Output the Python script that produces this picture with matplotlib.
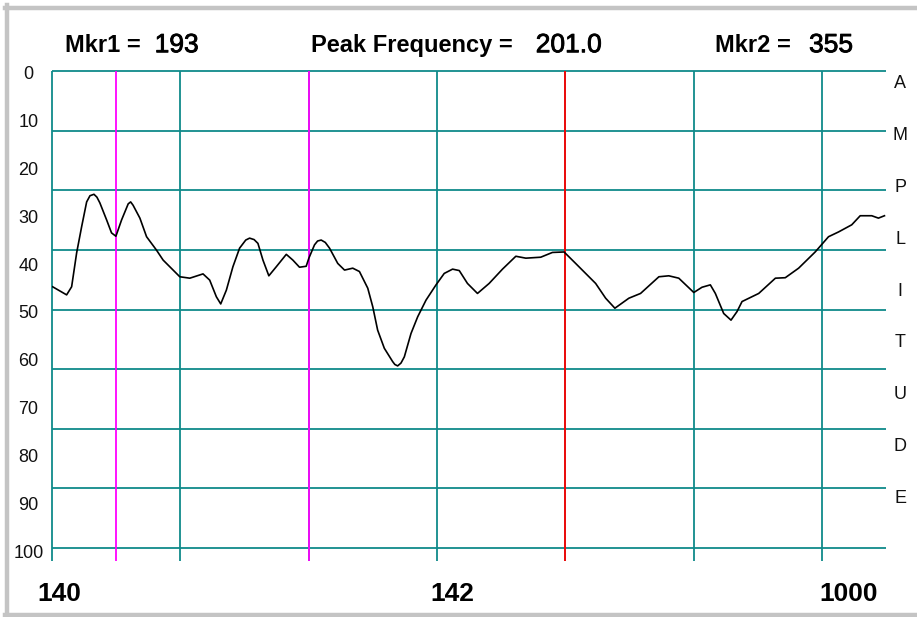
import numpy as np
import matplotlib.pyplot as plt
import matplotlib.patheffects as pe
from matplotlib.lines import Line2D

plt.rcParams['font.family'] = ['Liberation Sans', 'DejaVu Sans']

# sweep trace: x in screen divisions (0..6.5), amplitude 0 (top) .. 100 (bottom)
trace_x = [0.005, 0.114, 0.153, 0.192, 0.231, 0.270, 0.296, 0.327, 0.350, 0.373,
           0.426, 0.464, 0.498, 0.542, 0.594, 0.613, 0.632, 0.685, 0.737, 0.814,
           0.866, 0.996, 1.074, 1.177, 1.229, 1.281, 1.315, 1.359, 1.410, 1.462,
           1.510, 1.540, 1.575, 1.605, 1.644, 1.690, 1.748, 1.826, 1.877, 1.929,
           1.981, 2.002, 2.046, 2.070, 2.098, 2.130, 2.163, 2.227, 2.280, 2.344,
           2.396, 2.461, 2.500, 2.538, 2.590, 2.655, 2.672, 2.694, 2.720, 2.746,
           2.798, 2.850, 2.915, 2.993, 3.057, 3.122, 3.174, 3.238, 3.316, 3.407,
           3.511, 3.615, 3.693, 3.809, 3.900, 3.991, 4.081, 4.237, 4.315, 4.387,
           4.496, 4.587, 4.730, 4.807, 4.885, 5.002, 5.066, 5.131, 5.170, 5.235,
           5.292, 5.339, 5.378, 5.508, 5.638, 5.715, 5.819, 5.948, 6.052, 6.130,
           6.233, 6.299, 6.389, 6.441, 6.488]
trace_amp = [45.2, 46.9, 45.2, 38.1, 32.6, 27.4, 26.1, 25.8, 26.4, 27.6,
             31.2, 33.9, 34.6, 31.2, 27.8, 27.4, 28.1, 30.8, 34.7, 37.5,
             39.6, 43.1, 43.4, 42.5, 43.8, 47.3, 48.8, 45.9, 41.0, 37.1,
             35.4, 35.0, 35.3, 36.1, 39.6, 42.9, 41.0, 38.4, 39.6, 41.1,
             40.9, 39.2, 36.4, 35.6, 35.4, 35.9, 37.1, 40.3, 41.7, 41.3,
             42.0, 45.5, 49.4, 54.3, 58.1, 60.9, 61.5, 61.8, 61.2, 59.9,
             55.0, 51.5, 48.0, 44.8, 42.4, 41.5, 41.8, 44.5, 46.6, 44.5,
             41.5, 38.8, 39.2, 39.0, 38.0, 37.9, 40.3, 44.5, 47.6, 49.7,
             47.6, 46.6, 43.1, 42.9, 43.4, 46.4, 45.3, 44.8, 46.6, 50.8,
             52.2, 50.4, 48.3, 46.6, 43.4, 43.3, 41.3, 37.9, 34.7, 33.7,
             32.2, 30.3, 30.3, 30.8, 30.3]

mkr1_pos = 0.5
mkr2_pos = 2.0
peak_pos = 4.0
mkr1_val = "193"
mkr2_val = "355"
peak_val = "201.0"

amp_labels = [0, 10, 20, 30, 40, 50, 60, 70, 80, 90, 100]
side_letters = list("AMPLITUDE")
freq_labels = ["140", "142", "1000"]
freq_label_pos = [0.054, 3.12, 6.21]

W, H = 917, 617
fig = plt.figure(figsize=(W / 100, H / 100), dpi=100)
fig.patch.set_facecolor('white')

# window frame
def px_line(x0, y0, x1, y1, **kw):
    fig.add_artist(Line2D([x0 / W, x1 / W], [1 - y0 / H, 1 - y1 / H],
                          transform=fig.transFigure, **kw))

px_line(5, 7.5, W, 7.5, color='#c4c4c4', lw=3.2)
px_line(7, 5, 7, 615, color='#c4c4c4', lw=3.2)
px_line(5, 615, W, 615, color='#c4c4c4', lw=3.2)

left, right, top, bottom = 52, 886, 71.3, 548
ax = fig.add_axes([left / W, 1 - bottom / H, (right - left) / W, (bottom - top) / H])
ax.set_xlim(0, 6.5)
ax.set_ylim(100, 0)
ax.axis('off')

teal = '#0f8a8a'
drop = 102.75  # verticals run a bit below the 100 line
ax.hlines(np.arange(0, 100.1, 12.5), 0, 6.5, color=teal, lw=1.3, clip_on=False, zorder=1)
ax.vlines(np.arange(0, 7), 0, drop, color=teal, lw=1.3, clip_on=False, zorder=1)

ax.vlines([mkr1_pos, mkr2_pos], 0, drop, color='#ff00ff', lw=1.3, clip_on=False, zorder=2)
ax.vlines([peak_pos], 0, drop, color='#ff0000', lw=1.3, clip_on=False, zorder=2)

ax.plot(trace_x, trace_amp, color='black', lw=1.2, zorder=3)

# amplitude scale on the left
for v in amp_labels:
    ax.text(-0.185, v * 1.004 + 0.7, str(v), ha='center', va='center',
            fontsize=13, color='#111111', clip_on=False)

# vertical caption on the right
for i, ch in enumerate(side_letters):
    ax.text(6.61, 2.66 + i * 10.86, ch, ha='center', va='center',
            fontsize=13, color='#111111', clip_on=False)

# header readouts
head_y = -4.0
thick = [pe.withStroke(linewidth=0.6, foreground='black')]
ax.text(0.10, head_y, "Mkr1 =", fontsize=17, fontweight='bold', va='baseline')
ax.text(0.80, head_y, mkr1_val, fontsize=19, va='baseline', path_effects=thick)
ax.text(2.02, head_y, "Peak Frequency =", fontsize=17, fontweight='bold', va='baseline')
ax.text(3.77, head_y, peak_val, fontsize=19, va='baseline', path_effects=thick)
ax.text(5.17, head_y, "Mkr2 =", fontsize=17, fontweight='bold', va='baseline')
ax.text(5.90, head_y, mkr2_val, fontsize=19, va='baseline', path_effects=thick)

# frequency labels under the grid
for lab, xp in zip(freq_labels, freq_label_pos):
    ax.text(xp, 111.2, lab, ha='center', va='baseline', fontsize=19,
            fontweight='bold', clip_on=False)

fig.savefig('out.png', dpi=100)
